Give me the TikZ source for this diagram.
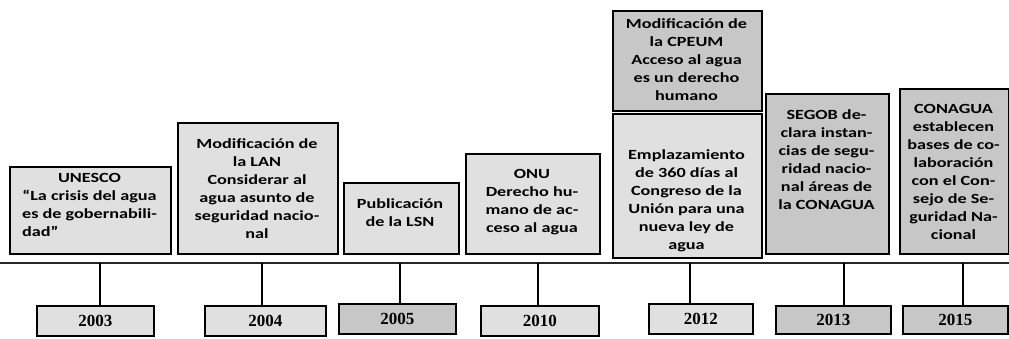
\documentclass[tikz,border=0pt]{standalone}
\usepackage{fontspec}
\usepackage{calc}
\newfontfamily\boxfont[FakeStretch=1.3]{Carlito}
\newfontfamily\yearfont{Liberation Serif}
\begin{document}
\begin{tikzpicture}[x=1pt,y=-1pt,
  evbox/.style={draw=black, line width=1.8pt, fill=black!12, inner sep=0pt, anchor=north west},
  darkbox/.style={evbox, fill=black!22},
  evtext/.style={font=\boxfont\bfseries\fontsize{14}{18}\selectfont, align=center, inner sep=0pt},
  yrbox/.style={draw=black, line width=1.8pt, fill=black!12, inner sep=0pt, anchor=north west,
    font=\yearfont\bfseries\fontsize{17}{20}\selectfont},
  yrdark/.style={yrbox, fill=black!22},
  tick/.style={line width=2pt},
  timeline/.style={line width=2.5pt, black!85}]
\useasboundingbox (0,0) rectangle (1009,339);
\fill[white] (0,0) rectangle (1009,339);

% event boxes
\node[evbox, minimum width=161pt, minimum height=87pt] (b1) at (9,166) {};
\node[evbox, minimum width=160pt, minimum height=131pt] (b2) at (177,122) {};
\node[evbox, minimum width=115pt, minimum height=71pt] (b3) at (343,182) {};
\node[evbox, minimum width=134pt, minimum height=100pt] (b4) at (465,153) {};
\node[darkbox, minimum width=149pt, minimum height=100pt] (b5a) at (612,10) {};
\node[evbox, minimum width=149pt, minimum height=144pt] (b5b) at (612,113) {};
\node[darkbox, minimum width=123pt, minimum height=160pt] (b6) at (765,93) {};
\node[darkbox, minimum width=109pt, minimum height=165pt] (b7) at (899,88) {};

% texts
\node[evtext] (t1) at (89.5,205) {UNESCO\\“La crisis del agua\\es de gobernabili-\\\makebox[\widthof{es de gobernabili-}][l]{dad”}};
\node[evtext] (t2) at (257,188.5) {Modificación de\\la LAN\\Considerar al\\agua asunto de\\seguridad nacio-\\nal};
\node[evtext] (t3) at (400,213) {Publicación\\de la LSN};
\node[evtext] (t4) at (532,202.5) {ONU\\Derecho hu-\\mano de ac-\\ceso al agua};
\node[evtext] (t5a) at (686.5,60) {Modificación de\\la CPEUM\\Acceso al agua\\es un derecho\\humano};
\node[evtext] (t5b) at (686.5,201) {Emplazamiento\\de 360 días al\\Congreso de la\\Unión para una\\nueva ley de\\agua};
\node[evtext] (t6) at (826.5,160) {SEGOB de-\\clara instan-\\cias de segu-\\ridad nacio-\\nal áreas de\\la CONAGUA};
\node[evtext] (t7) at (953.5,171.5) {CONAGUA\\establecen\\bases de co-\\laboración\\con el Con-\\sejo de Se-\\guridad Na-\\cional};

% timeline
\coordinate (tl) at (0,263);
\coordinate (tr) at (1009,263);
\draw[timeline] (tl) -- (tr);

% year boxes
\node[yrbox, minimum width=117pt, minimum height=30pt] (y2003) at (36,305) {2003};
\node[yrbox, minimum width=121pt, minimum height=30pt] (y2004) at (204,305) {2004};
\node[yrdark, minimum width=117pt, minimum height=30pt] (y2005) at (338,303) {2005};
\node[yrbox, minimum width=118pt, minimum height=30pt] (y2010) at (480,305) {2010};
\node[yrbox, minimum width=104pt, minimum height=30pt] (y2012) at (648,303) {2012};
\node[yrdark, minimum width=115pt, minimum height=28pt] (y2013) at (775,305) {2013};
\node[yrdark, minimum width=105pt, minimum height=28pt] (y2015) at (902,305) {2015};

% ticks
\coordinate (k2003) at (100,263);
\coordinate (k2004) at (262,263);
\coordinate (k2005) at (400,263);
\coordinate (k2010) at (538,263);
\coordinate (k2012) at (690,263);
\coordinate (k2013) at (844,263);
\coordinate (k2015) at (963,263);
\foreach \y in {2003,2004,2005,2010,2012,2013,2015}
  \draw[tick] (k\y) -- (k\y |- y\y.north);
\end{tikzpicture}
\end{document}
